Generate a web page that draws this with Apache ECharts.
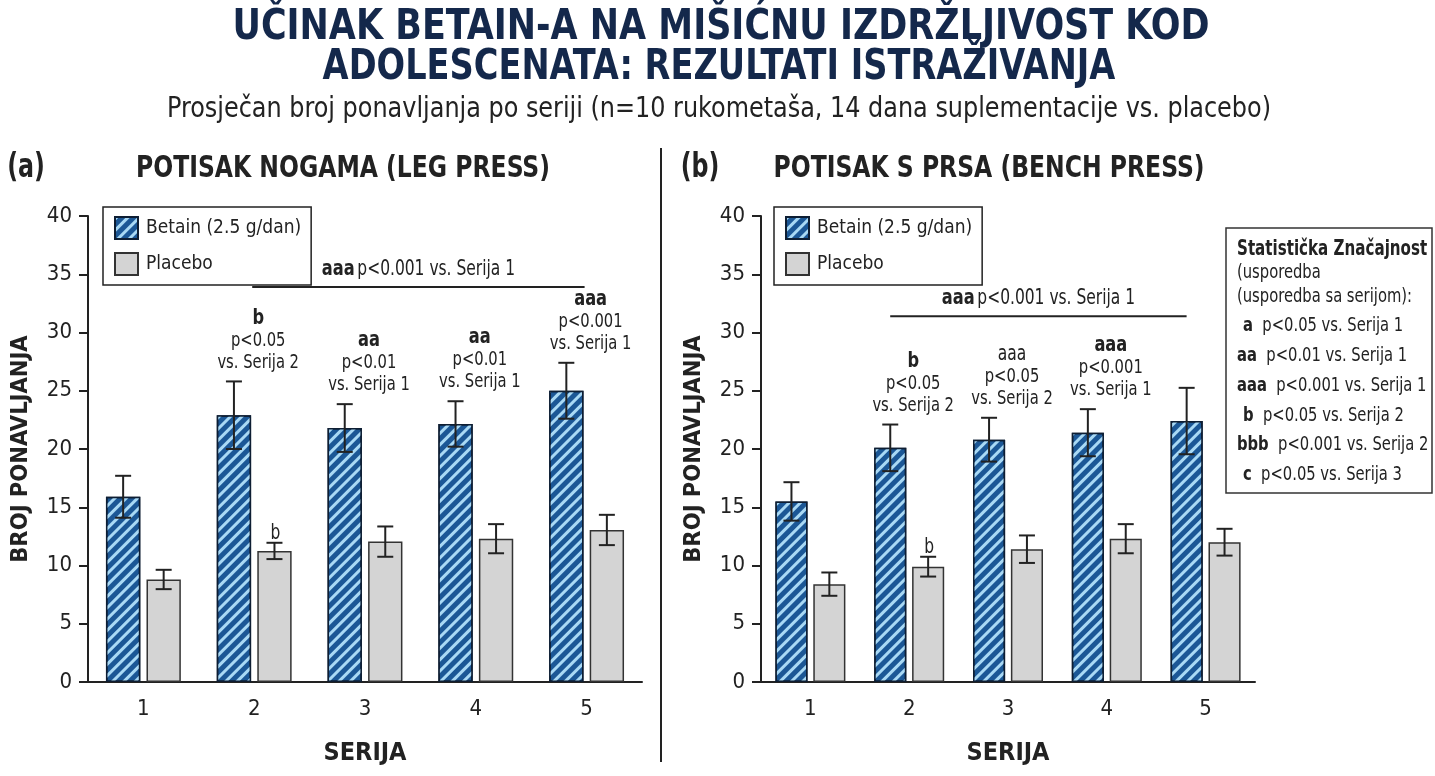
<!DOCTYPE html>
<html>
<head>
<meta charset="utf-8">
<title>Betain - mišićna izdržljivost</title>
<script src="https://cdn.jsdelivr.net/npm/echarts@6/dist/echarts.min.js"></script>
<style>
  html, body { margin: 0; padding: 0; background: #fff; }
  #chart { width: 1435px; height: 776px; }
</style>
</head>
<body>
<div id="chart"></div>
<script type="text/javascript">
// podaci (procijenjeno s grafa)
var categories = ['1', '2', '3', '4', '5'];
var seriesNames = ['Betain (2.5 g/dan)', 'Placebo'];

var legBetain      = [15.9, 22.9, 21.8, 22.15, 25.0];
var legBetainErr   = [1.8, 2.9, 2.05, 1.95, 2.4];
var legPlacebo     = [8.8, 11.25, 12.05, 12.3, 13.05];
var legPlaceboErr  = [0.83, 0.7, 1.3, 1.25, 1.3];

var benchBetain     = [15.5, 20.1, 20.8, 21.4, 22.4];
var benchBetainErr  = [1.65, 2.0, 1.88, 2.02, 2.85];
var benchPlacebo    = [8.4, 9.9, 11.4, 12.3, 12.0];
var benchPlaceboErr = [1.0, 0.85, 1.18, 1.25, 1.15];

var yTicks = { min: 0, max: 40, interval: 5 };

// oznake značajnosti iznad stupaca
var legNotes = [
  { cat: 1, bar: 0, head: 'b',   bold: true, lines: ['p<0.05', 'vs. Serija 2'] },
  { cat: 2, bar: 0, head: 'aa',  bold: true, lines: ['p<0.01', 'vs. Serija 1'] },
  { cat: 3, bar: 0, head: 'aa',  bold: true, lines: ['p<0.01', 'vs. Serija 1'] },
  { cat: 4, bar: 0, head: 'aaa', bold: true, lines: ['p<0.001', 'vs. Serija 1'] },
  { cat: 1, bar: 1, head: 'b',   bold: false, lines: [] }
];
var benchNotes = [
  { cat: 1, bar: 0, head: 'b',   bold: true,  lines: ['p<0.05', 'vs. Serija 2'] },
  { cat: 2, bar: 0, head: 'aaa', bold: false, lines: ['p<0.05', 'vs. Serija 2'] },
  { cat: 3, bar: 0, head: 'aaa', bold: true,  lines: ['p<0.001', 'vs. Serija 1'] },
  { cat: 1, bar: 1, head: 'b',   bold: false, lines: [] }
];

var statRows = [
  ['a', 'p<0.05 vs. Serija 1'],
  ['aa', 'p<0.01 vs. Serija 1'],
  ['aaa', 'p<0.001 vs. Serija 1'],
  ['b', 'p<0.05 vs. Serija 2'],
  ['bbb', 'p<0.001 vs. Serija 2'],
  ['c', 'p<0.05 vs. Serija 3']
];

var FONT = '"DejaVu Sans Condensed", "Liberation Sans Narrow", sans-serif';
var INK = '#222';
var NAVY = '#14284b';
var NARROW = 0.82;   // sužavanje teksta da odgovara uskom pismu

var panels = [
  { betain: legBetain, betainErr: legBetainErr, placebo: legPlacebo, placeboErr: legPlaceboErr,
    notes: legNotes, barW: 0.31, gap: 0.18, bracket: { from: 1, to: 4, y: 33.9, dx: -2 } },
  { betain: benchBetain, betainErr: benchBetainErr, placebo: benchPlacebo, placeboErr: benchPlaceboErr,
    notes: benchNotes, barW: 0.325, gap: 0.18, bracket: { from: 1, to: 4, y: 31.4, dx: -19 } }
];

function barCenter(api, p, cat, bar) {
  var band = api.size([1, 0])[0];
  var bw = band * p.barW, g = bw * p.gap;
  var cx = api.coord([cat, 0])[0];
  return cx + (bar === 0 ? -1 : 1) * (bw + g) / 2;
}

var myChart = echarts.init(document.getElementById('chart'), null, { renderer: 'canvas' });

var series = [];
panels.forEach(function (p, k) {
  series.push({
    name: seriesNames[0], type: 'bar', xAxisIndex: k, yAxisIndex: k,
    barWidth: (p.barW * 100) + '%', barGap: (p.gap * 100) + '%',
    data: p.betain,
    itemStyle: {
      color: '#1b5796', borderColor: '#0e1e33', borderWidth: 1.5,
      decal: { symbol: 'rect', symbolSize: 1, color: '#a9d9f5',
               dashArrayX: [1, 0], dashArrayY: [3, 5], rotation: -Math.PI / 4 }
    },
    emphasis: { disabled: true }
  });
  series.push({
    name: seriesNames[1], type: 'bar', xAxisIndex: k, yAxisIndex: k,
    barWidth: (p.barW * 100) + '%', barGap: (p.gap * 100) + '%',
    data: p.placebo,
    itemStyle: { color: '#d4d4d4', borderColor: '#333', borderWidth: 1.5 },
    emphasis: { disabled: true }
  });
  // error bars
  var errData = [];
  p.betain.forEach(function (v, i) { errData.push([i, v, p.betainErr[i], 0]); });
  p.placebo.forEach(function (v, i) { errData.push([i, v, p.placeboErr[i], 1]); });
  series.push({
    type: 'custom', xAxisIndex: k, yAxisIndex: k, z: 10, silent: true,
    data: errData,
    renderItem: function (params, api) {
      var cat = api.value(0), v = api.value(1), e = api.value(2), bar = api.value(3);
      var x = barCenter(api, p, cat, bar);
      var top = api.coord([cat, v + e])[1], bot = api.coord([cat, v - e])[1];
      var st = { stroke: INK, lineWidth: 2 };
      return { type: 'group', children: [
        { type: 'line', shape: { x1: x, y1: top, x2: x, y2: bot }, style: st },
        { type: 'line', shape: { x1: x - 8, y1: top, x2: x + 8, y2: top }, style: st },
        { type: 'line', shape: { x1: x - 8, y1: bot, x2: x + 8, y2: bot }, style: st }
      ] };
    }
  });
  // notes
  series.push({
    type: 'custom', xAxisIndex: k, yAxisIndex: k, z: 11, silent: true,
    data: p.notes.map(function (n) {
      var vals = n.bar === 0 ? p.betain : p.placebo;
      var errs = n.bar === 0 ? p.betainErr : p.placeboErr;
      return [n.cat, vals[n.cat] + errs[n.cat], n.bar];
    }),
    renderItem: function (params, api) {
      var n = p.notes[params.dataIndex];
      var cat = api.value(0), top = api.value(1);
      var x = n.bar === 0 ? api.coord([cat, 0])[0] + 4 : barCenter(api, p, cat, 1) + 1;
      var y = api.coord([cat, top])[1] + (n.bar === 0 ? -8 : 2);
      var txt = '{' + (n.bold ? 'h' : 'r') + '|' + n.head + '}';
      n.lines.forEach(function (l) { txt += '\n{t|' + l + '}'; });
      return {
        type: 'text', x: x, y: y, scaleX: NARROW,
        style: {
          text: txt, align: 'center', verticalAlign: 'bottom',
          rich: {
            h: { fontFamily: FONT, fontSize: 22, fontWeight: 'bold', fill: INK, lineHeight: 23, align: 'center' },
            r: { fontFamily: FONT, fontSize: 21, fill: INK, lineHeight: 23, align: 'center' },
            t: { fontFamily: FONT, fontSize: 20, fill: INK, lineHeight: 22, align: 'center' }
          }
        }
      };
    }
  });
  // bracket "aaa p<0.001 vs. Serija 1"
  series.push({
    type: 'custom', xAxisIndex: k, yAxisIndex: k, z: 11, silent: true,
    data: [[p.bracket.from, p.bracket.to, p.bracket.y]],
    renderItem: function (params, api) {
      var a = api.coord([api.value(0), api.value(2)]);
      var b = api.coord([api.value(1), api.value(2)]);
      var x1 = a[0] + p.bracket.dx, x2 = b[0] + p.bracket.dx, y = a[1];
      return { type: 'group', children: [
        { type: 'line', shape: { x1: x1, y1: y, x2: x2, y2: y }, style: { stroke: INK, lineWidth: 2 } },
        { type: 'text', x: (x1 + x2) / 2, y: y - 7, scaleX: NARROW,
          style: { text: '{h|aaa} {t|p<0.001 vs. Serija 1}', align: 'center', verticalAlign: 'bottom',
            rich: {
              h: { fontFamily: FONT, fontSize: 22, fontWeight: 'bold', fill: INK },
              t: { fontFamily: FONT, fontSize: 21, fill: INK }
            } } }
      ] };
    }
  });
});

function xAxisCfg(k) {
  return {
    type: 'category', gridIndex: k, data: categories,
    axisLine: { lineStyle: { color: INK, width: 2 } },
    axisTick: { alignWithLabel: true, length: 9, lineStyle: { color: INK, width: 2 } },
    axisLabel: { fontFamily: FONT, fontSize: 22, color: INK, margin: 16 },
    name: 'SERIJA', nameLocation: 'middle', nameGap: 59,
    nameTextStyle: { fontFamily: FONT, fontSize: 25, fontWeight: 'bold', color: INK }
  };
}
function yAxisCfg(k) {
  return {
    type: 'value', gridIndex: k, min: yTicks.min, max: yTicks.max, interval: yTicks.interval,
    axisLine: { show: true, lineStyle: { color: INK, width: 2 } },
    axisTick: { show: true, length: 9, lineStyle: { color: INK, width: 2 } },
    axisLabel: { fontFamily: FONT, fontSize: 22, color: INK, margin: 16 },
    splitLine: { show: false },
    name: 'BROJ PONAVLJANJA', nameLocation: 'middle', nameGap: 55, nameRotate: 90,
    nameTextStyle: { fontFamily: FONT, fontSize: 23.5, fontWeight: 'bold', color: INK }
  };
}
function legendCfg(left) {
  return {
    data: seriesNames, orient: 'vertical', left: left, top: 207,
    itemWidth: 23, itemHeight: 22, itemGap: 12, icon: 'rect',
    padding: [9, 10, 9, 11], borderColor: INK, borderWidth: 1.5, backgroundColor: '#fff',
    textStyle: { fontFamily: FONT, fontSize: 19, color: INK, padding: [0, 0, 0, 3] },
    selectedMode: false
  };
}

var statTexts = [];
statRows.forEach(function (r, i) {
  statTexts.push({
    type: 'text', x: r[0].length === 1 ? 1243 : 1237, y: 326 + i * 29.8, scaleX: NARROW,
    style: { text: '{b|' + r[0] + '}  ' + r[1], verticalAlign: 'middle', fontFamily: FONT, fontSize: 20, fill: INK,
             rich: { b: { fontFamily: FONT, fontSize: 20, fontWeight: 'bold', fill: INK } } }
  });
});

var option = {
  backgroundColor: '#fff',
  animation: false,
  grid: [
    { left: 88, top: 216, width: 554, height: 466 },
    { left: 761, top: 216, width: 494, height: 466 }
  ],
  xAxis: [xAxisCfg(0), xAxisCfg(1)],
  yAxis: [yAxisCfg(0), yAxisCfg(1)],
  legend: [legendCfg(103), legendCfg(774)],
  series: series,
  graphic: [
    { type: 'text', x: 721, y: 28, scaleX: 0.926, style: { text: 'UČINAK BETAIN-A NA MIŠIĆNU IZDRŽLJIVOST KOD', align: 'center', verticalAlign: 'middle',
      font: 'bold 42px ' + FONT, fill: NAVY } },
    { type: 'text', x: 719, y: 68, scaleX: 0.89, style: { text: 'ADOLESCENATA: REZULTATI ISTRAŽIVANJA', align: 'center', verticalAlign: 'middle',
      font: 'bold 42px ' + FONT, fill: NAVY } },
    { type: 'text', x: 719, y: 110, scaleX: 0.95, style: { text: 'Prosječan broj ponavljanja po seriji (n=10 rukometaša, 14 dana suplementacije vs. placebo)',
      align: 'center', verticalAlign: 'middle', font: '28px ' + FONT, fill: INK } },
    { type: 'text', x: 26, y: 168, scaleX: 0.8, style: { text: '(a)', align: 'center', verticalAlign: 'middle', font: 'bold 33px ' + FONT, fill: INK } },
    { type: 'text', x: 343, y: 169, scaleX: 0.87, style: { text: 'POTISAK NOGAMA (LEG PRESS)', align: 'center', verticalAlign: 'middle', font: 'bold 30px ' + FONT, fill: INK } },
    { type: 'text', x: 700, y: 168, scaleX: 0.8, style: { text: '(b)', align: 'center', verticalAlign: 'middle', font: 'bold 33px ' + FONT, fill: INK } },
    { type: 'text', x: 989, y: 169, scaleX: 0.87, style: { text: 'POTISAK S PRSA (BENCH PRESS)', align: 'center', verticalAlign: 'middle', font: 'bold 30px ' + FONT, fill: INK } },
    { type: 'line', shape: { x1: 661, y1: 148, x2: 661, y2: 762 }, style: { stroke: INK, lineWidth: 2 } },
    { type: 'rect', shape: { x: 1226, y: 228, width: 206, height: 265 }, style: { fill: '#fff', stroke: '#333', lineWidth: 1.5 } },
    { type: 'text', x: 1237, y: 250, scaleX: 0.8, style: { text: 'Statistička Značajnost', verticalAlign: 'middle', font: 'bold 21px ' + FONT, fill: INK } },
    { type: 'text', x: 1237, y: 273, scaleX: NARROW, style: { text: '(usporedba', verticalAlign: 'middle', font: '20px ' + FONT, fill: INK } },
    { type: 'text', x: 1237, y: 297, scaleX: NARROW, style: { text: '(usporedba sa serijom):', verticalAlign: 'middle', font: '20px ' + FONT, fill: INK } }
  ].concat(statTexts)
};

myChart.setOption(option);
</script>
</body>
</html>
